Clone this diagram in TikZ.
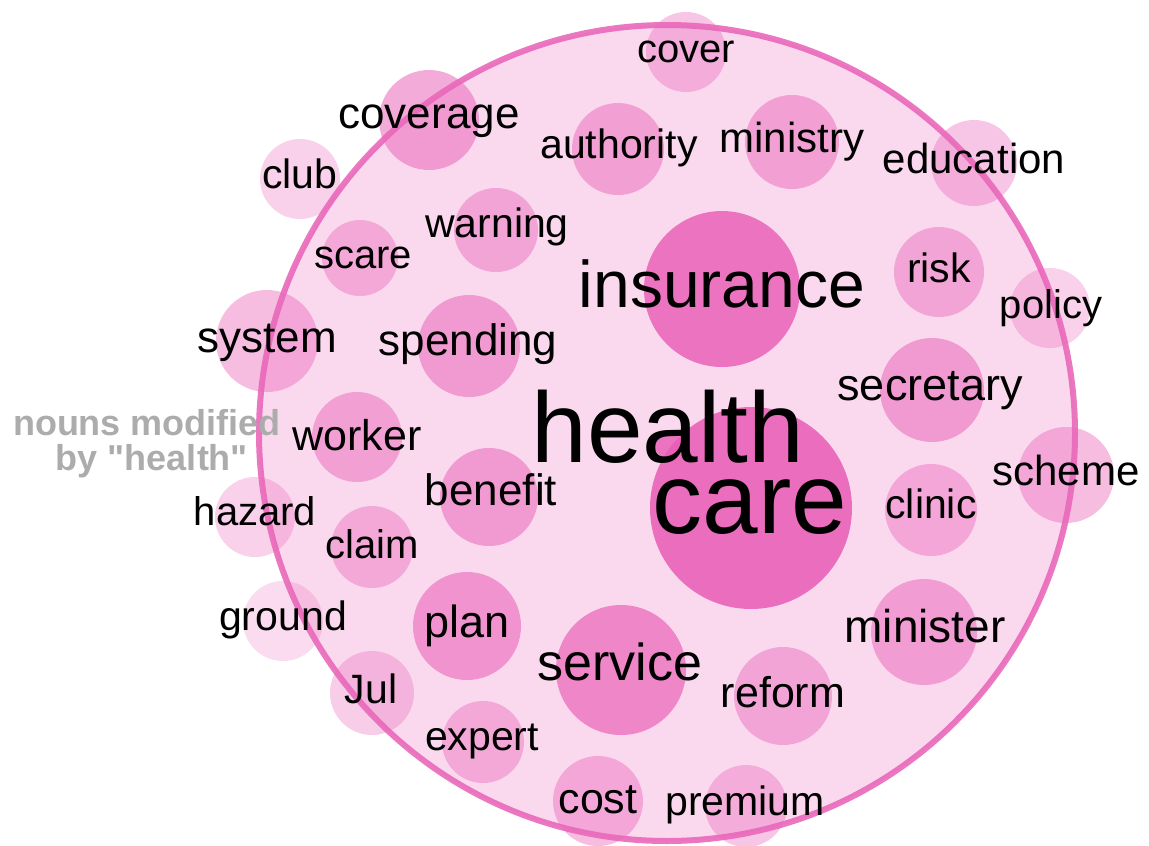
\documentclass[tikz,border=0pt]{standalone}
\usepackage{fontspec}
\setmainfont{Liberation Sans}
\newfontfamily\notefont{Liberation Sans}[Ligatures=TeXOff]
\usepackage{xcolor}
\usepackage{tikz}
\usetikzlibrary{positioning}
\definecolor{bubblepink}{RGB}{232,90,180}
\definecolor{ringpink}{RGB}{233,104,186}
\definecolor{notegray}{RGB}{172,172,172}

\begin{document}
\begin{tikzpicture}[
				x=1pt, y=-1pt,
				bubble/.style={circle, inner sep=0pt, draw=none, fill=bubblepink, minimum size=#1*2pt},
				word/.style={anchor=base, inner sep=0pt, text=black, font=\fontsize{#1}{#1}\selectfont},
				note/.style={anchor=base, inner sep=0pt, text=notegray, font=\notefont\fontsize{36}{36}\selectfont\bfseries}
				]
				\useasboundingbox (0,0) rectangle (1149,846);

				% outer ring
				\node[bubble=408, fill opacity=0.23] (ring) at (667,433) {};

				% bubbles
				\node[bubble=40, fill opacity=0.35] (b-cover) at (686,52) {};
				\node[bubble=50, fill opacity=0.5] (b-coverage) at (429,120) {};
				\node[bubble=40, fill opacity=0.28] (b-club) at (300,179) {};
				\node[bubble=46, fill opacity=0.45] (b-authority) at (618,149) {};
				\node[bubble=47, fill opacity=0.45] (b-ministry) at (792,142) {};
				\node[bubble=43, fill opacity=0.35] (b-education) at (974,163) {};
				\node[bubble=42, fill opacity=0.42] (b-warning) at (496,230) {};
				\node[bubble=38, fill opacity=0.38] (b-scare) at (360,258) {};
				\node[bubble=78, fill opacity=0.8] (b-insurance) at (722,289) {};
				\node[bubble=45, fill opacity=0.42] (b-risk) at (939,272) {};
				\node[bubble=40, fill opacity=0.28] (b-policy) at (1050,308) {};
				\node[bubble=51, fill opacity=0.4] (b-system) at (267,341) {};
				\node[bubble=51, fill opacity=0.5] (b-spending) at (469,346) {};
				\node[bubble=52, fill opacity=0.5] (b-secretary) at (932,390) {};
				\node[bubble=45, fill opacity=0.45] (b-worker) at (357,437) {};
				\node[bubble=101, fill opacity=0.85] (b-care) at (751,508) {};
				\node[bubble=14, fill opacity=0.8] (b-health) at (668,444) {};
				\node[bubble=49, fill opacity=0.5] (b-benefit) at (489,497) {};
				\node[bubble=48, fill opacity=0.4] (b-scheme) at (1066,475) {};
				\node[bubble=46, fill opacity=0.4] (b-clinic) at (931,510) {};
				\node[bubble=40, fill opacity=0.28] (b-hazard) at (255,517) {};
				\node[bubble=41, fill opacity=0.38] (b-claim) at (372,547) {};
				\node[bubble=40, fill opacity=0.22] (b-ground) at (283,621) {};
				\node[bubble=54, fill opacity=0.55] (b-plan) at (467,626) {};
				\node[bubble=65, fill opacity=0.65] (b-service) at (621,670) {};
				\node[bubble=53, fill opacity=0.48] (b-minister) at (924,632) {};
				\node[bubble=49, fill opacity=0.42] (b-reform) at (783,696) {};
				\node[bubble=42, fill opacity=0.3] (b-jul) at (372,693) {};
				\node[bubble=41, fill opacity=0.38] (b-expert) at (483,742) {};
				\node[bubble=45, fill opacity=0.4] (b-cost) at (598,801) {};
				\node[bubble=41, fill opacity=0.35] (b-premium) at (746,806) {};

				\draw[ringpink, line width=6pt, draw opacity=0.9] (ring.center) circle[radius=408pt];

				% words
				\node[word=40] (cover) at (686,62) {cover};
				\node[word=44] (coverage) at (429,128) {coverage};
				\node[word=41] (club) at (300,188) {club};
				\node[word=41] (authority) at (619,158) {authority};
				\node[word=42] (ministry) at (792,152) {ministry};
				\node[word=42] (education) at (974,173) {education};
				\node[word=41] (warning) at (497,237) {warning};
				\node[word=40] (scare) at (363,268) {scare};
				\node[word=66] (insurance) at (722,307) {insurance};
				\node[word=41] (risk) at (939,282) {risk};
				\node[word=40] (policy) at (1051,318) {policy};
				\node[word=44] (system) at (267,352) {system};
				\node[word=44] (spending) at (468,355) {spending};
				\node[word=45] (secretary) at (930,400) {secretary};
				\node[word=43] (worker) at (357,450) {worker};
				\node[word=100] (health) at (668,462) {health};
				\node[word=100] (care) at (750,533) {care};
				\node[word=44] (benefit) at (491,505) {benefit};
				\node[word=42] (scheme) at (1066,485) {scheme};
				\node[word=41] (clinic) at (931,518) {clinic};
				\node[word=40] (hazard) at (255,525) {hazard};
				\node[word=40] (claim) at (372,558) {claim};
				\node[word=41] (ground) at (283,630) {ground};
				\node[word=45] (plan) at (467,637) {plan};
				\node[word=52] (service) at (620,680) {service};
				\node[word=46] (minister) at (925,642) {minister};
				\node[word=43] (reform) at (783,707) {reform};
				\node[word=41] (jul) at (371,703) {Jul};
				\node[word=41] (expert) at (482,750) {expert};
				\node[word=43] (cost) at (598,813) {cost};
				\node[word=41] (premium) at (745,815) {premium};

				% side label
				\node[note] (note-a) at (147,435) {nouns modified};
				\node[note] (note-b) at (152,470) {by "health"};
			\end{tikzpicture}
\end{document}
